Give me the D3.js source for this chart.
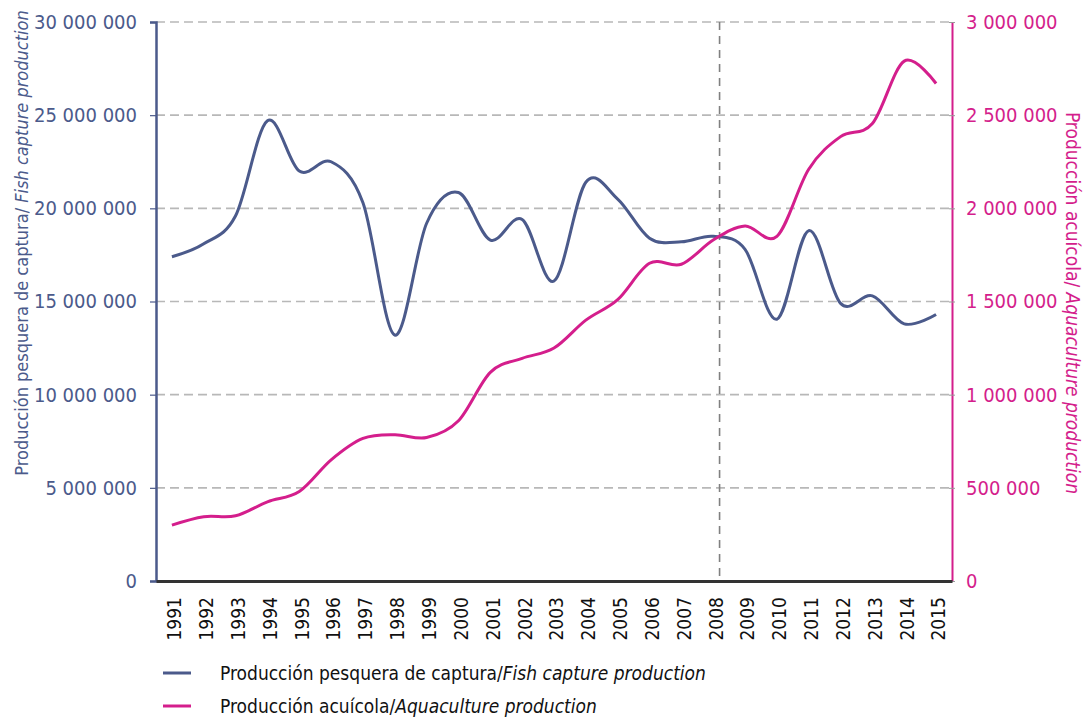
<!DOCTYPE html>
<html>
<head>
<meta charset="utf-8">
<script src="https://cdn.jsdelivr.net/npm/d3@7"></script>
<style>
  body { margin: 0; background: #fff; }
  svg text { font-family: "DejaVu Sans", sans-serif; font-stretch: condensed; }
</style>
</head>
<body>
<div id="chart"></div>
<script>
(function() {
  var years = [1991, 1992, 1993, 1994, 1995, 1996, 1997, 1998, 1999, 2000, 2001, 2002, 2003,
    2004, 2005, 2006, 2007, 2008, 2009, 2010, 2011, 2012, 2013, 2014, 2015];
  var capture = [17.4e6, 18.1e6, 19.6e6, 24.7e6, 22.0e6, 22.5e6, 20.3e6, 13.2e6, 19.2e6, 20.85e6,
    18.3e6, 19.4e6, 16.1e6, 21.4e6, 20.5e6, 18.4e6, 18.2e6, 18.5e6, 17.8e6, 14.05e6,
    18.8e6, 14.9e6, 15.3e6, 13.8e6, 14.3e6];
  var aquaculture = [300e3, 345e3, 350e3, 425e3, 480e3, 650e3, 765e3, 785e3, 770e3, 860e3,
    1120e3, 1195e3, 1250e3, 1400e3, 1510e3, 1705e3, 1700e3, 1830e3, 1905e3, 1850e3,
    2210e3, 2385e3, 2455e3, 2790e3, 2670e3];
  var leftTicks = [0, 5e6, 10e6, 15e6, 20e6, 25e6, 30e6];
  var rightTicks = [0, 5e5, 1e6, 1.5e6, 2e6, 2.5e6, 3e6];
  var markerYear = 2008.2;
  var legendLabels = [
    ['Producción pesquera de captura/', 'Fish capture production'],
    ['Producción acuícola/', 'Aquaculture production']
  ];

  var WIDTH = 1088, HEIGHT = 718;
  var margin = {top: 22, right: 136, bottom: 137, left: 156};
  var BLUE = '#4b5a8b', PINK = '#d41e8c';
  var colors = [BLUE, PINK];

  var svg = d3.select('#chart').append('svg')
    .attr('width', WIDTH)
    .attr('height', HEIGHT);

  var x = d3.scaleLinear()
    .domain([years[0] - 0.5, years[years.length - 1] + 0.5])
    .range([margin.left, WIDTH - margin.right]);
  var yL = d3.scaleLinear().domain([0, 30e6]).range([HEIGHT - margin.bottom, margin.top]);
  var yR = d3.scaleLinear().domain([0, 3e6]).range([HEIGHT - margin.bottom, margin.top]);

  function fmt(v) {
    return d3.format(',')(v).replace(/,/g, ' ');
  }

  // horizontal dashed grid
  svg.append('g').selectAll('line')
    .data(leftTicks.slice(1))
    .enter().append('line')
    .attr('x1', margin.left)
    .attr('x2', WIDTH - margin.right)
    .attr('y1', function(d) { return yL(d); })
    .attr('y2', function(d) { return yL(d); })
    .attr('stroke', '#b8b8b8')
    .attr('stroke-width', 1.6)
    .attr('stroke-dasharray', '9,5');

  // vertical marker
  svg.append('line')
    .attr('x1', x(markerYear)).attr('x2', x(markerYear))
    .attr('y1', yL(30e6)).attr('y2', yL(0))
    .attr('stroke', '#808080')
    .attr('stroke-width', 1.6)
    .attr('stroke-dasharray', '8,6');

  // left axis
  var gL = svg.append('g')
    .attr('transform', 'translate(' + margin.left + ',0)')
    .call(d3.axisLeft(yL).tickValues(leftTicks).tickFormat(fmt).tickSize(6).tickPadding(13));
  gL.select('.domain').attr('stroke', BLUE).attr('stroke-width', 2.5);
  gL.selectAll('.tick line').attr('stroke', BLUE).attr('stroke-width', 1.2);
  gL.selectAll('.tick text').attr('fill', BLUE).style('font-size', '20px');

  // right axis
  var gR = svg.append('g')
    .attr('transform', 'translate(' + (WIDTH - margin.right) + ',0)')
    .call(d3.axisRight(yR).tickValues(rightTicks).tickFormat(fmt).tickSize(0).tickPadding(14));
  gR.select('.domain').attr('stroke', PINK).attr('stroke-width', 2);
  gR.selectAll('.tick text').attr('fill', PINK).style('font-size', '20px');
  gR.selectAll('.tick').append('line')
    .attr('x1', -3).attr('x2', 3)
    .attr('stroke', '#999');

  // bottom axis
  var gB = svg.append('g')
    .attr('transform', 'translate(0,' + yL(0) + ')')
    .call(d3.axisBottom(x).tickValues(years).tickFormat(d3.format('d')).tickSize(0));
  gB.select('.domain').attr('stroke', '#333').attr('stroke-width', 3);
  gB.selectAll('.tick text')
    .attr('fill', '#111')
    .style('font-size', '19px')
    .attr('text-anchor', 'end')
    .attr('transform', 'rotate(-90)')
    .attr('x', -16)
    .attr('dy', '0.36em')
    .attr('y', 2);

  // lines
  var series = [
    {values: capture, y: yL, color: BLUE},
    {values: aquaculture, y: yR, color: PINK}
  ];
  series.forEach(function(s) {
    var line = d3.line()
      .x(function(d, i) { return x(years[i]); })
      .y(function(d) { return s.y(d); })
      .curve(d3.curveCardinal.tension(0));
    svg.append('path')
      .datum(s.values)
      .attr('d', line)
      .attr('fill', 'none')
      .attr('stroke', s.color)
      .attr('stroke-width', 3)
      .attr('stroke-linejoin', 'round');
  });

  // axis titles
  var tL = svg.append('text')
    .attr('transform', 'translate(28,' + 243 + ') rotate(-90)')
    .attr('text-anchor', 'middle')
    .attr('fill', BLUE)
    .style('font-size', '18px');
  tL.append('tspan').text('Producción pesquera de captura/ ');
  tL.append('tspan').style('font-style', 'italic').text('Fish capture production');

  var tR = svg.append('text')
    .attr('transform', 'translate(1066,' + 303 + ') rotate(90)')
    .attr('text-anchor', 'middle')
    .attr('fill', PINK)
    .style('font-size', '19px');
  tR.append('tspan').text('Producción acuícola/ ');
  tR.append('tspan').style('font-style', 'italic').text('Aquaculture production');

  // legend
  var lg = svg.append('g').selectAll('g')
    .data(legendLabels)
    .enter().append('g')
    .attr('transform', function(d, i) { return 'translate(163,' + (673 + i * 33) + ')'; });
  lg.append('line')
    .attr('x1', 0).attr('x2', 28)
    .attr('stroke', function(d, i) { return colors[i]; })
    .attr('stroke-width', 3);
  var lt = lg.append('text')
    .attr('x', 57)
    .attr('dy', '0.35em')
    .attr('fill', '#111')
    .style('font-size', '19px');
  lt.append('tspan').text(function(d) { return d[0]; });
  lt.append('tspan').style('font-style', 'italic').text(function(d) { return d[1]; });
})();
</script>
</body>
</html>
